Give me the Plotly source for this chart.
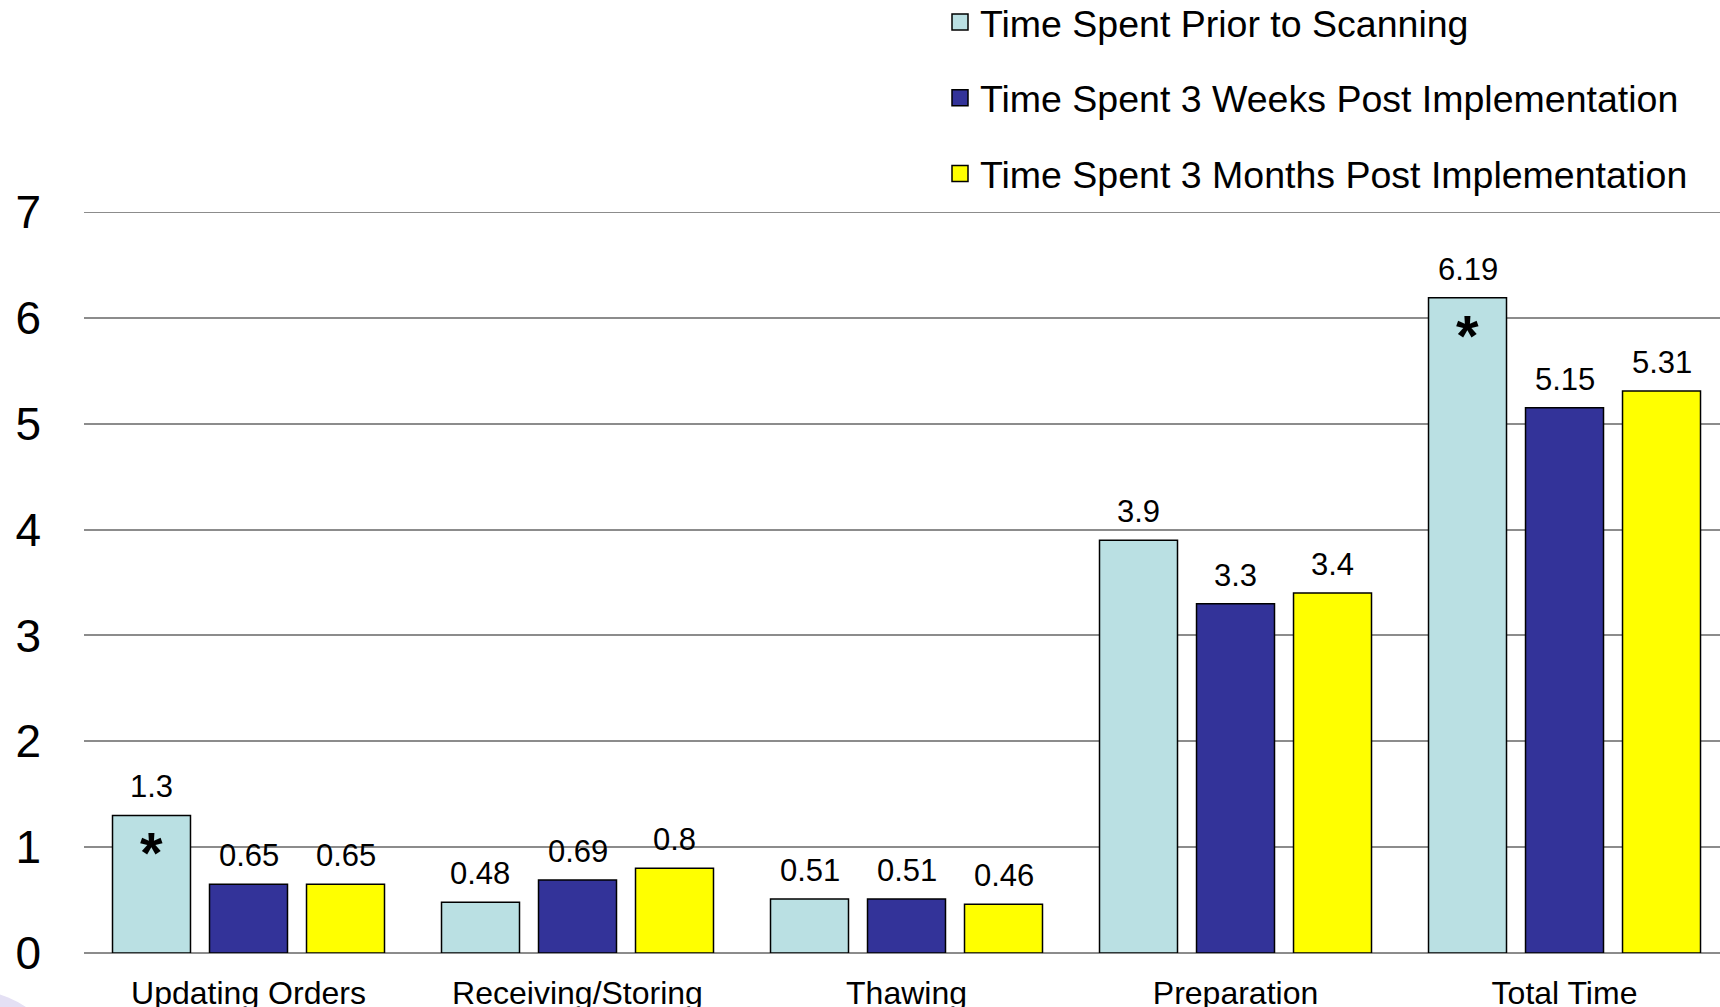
import plotly.graph_objects as go

# ---------------- data ----------------
CATEGORIES = ["Updating Orders", "Receiving/Storing", "Thawing", "Preparation", "Total Time"]
PRIOR = [1.3, 0.48, 0.51, 3.9, 6.19]
WEEKS3 = [0.65, 0.69, 0.51, 3.3, 5.15]
MONTHS3 = [0.65, 0.8, 0.46, 3.4, 5.31]
SERIES_NAMES = [
    "Time Spent Prior to Scanning",
    "Time Spent 3 Weeks Post Implementation",
    "Time Spent 3 Months Post Implementation",
]
SIGNIFICANT = ["Updating Orders", "Total Time"]  # asterisk on "Prior" bars
Y_TICKS = [0, 1, 2, 3, 4, 5, 6, 7]

# ---------------- style ----------------
COLORS = ["#BAE0E3", "#333399", "#FFFF00"]
FONT = "Liberation Sans, Arial, Helvetica, sans-serif"
GRID = "#8c8c8c"
W, H = 1720, 1007
M_L, M_R, M_T, M_B = 84, 0, 212, 54
X_RANGE = [-0.5, 4.4726]
Y_RANGE = [0, 7]
BARGAP = 0.1155
BARGROUPGAP = 0.196

plot_w = W - M_L - M_R
plot_h = H - M_T - M_B
band_px = plot_w / (X_RANGE[1] - X_RANGE[0])
slot_px = band_px * (1 - BARGAP) / 3


def px_x(p):
    return (p - M_L) / plot_w


def px_y(p):
    return (H - M_B - p) / plot_h


series_values = [PRIOR, WEEKS3, MONTHS3]

fig = go.Figure()
for name, vals, col in zip(SERIES_NAMES, series_values, COLORS):
    fig.add_trace(go.Bar(
        x=CATEGORIES, y=vals, name=name,
        marker=dict(color=col, line=dict(color="black", width=1.5)),
        showlegend=False, hoverinfo="x+y",
    ))

# legend entries (square markers)
for i, (name, col) in enumerate(zip(SERIES_NAMES, COLORS)):
    fig.add_trace(go.Scatter(
        x=[None], y=[None], mode="markers", name=name,
        legendgroup=f"g{i}",
        marker=dict(symbol="square", size=16, color=col, line=dict(color="black", width=1.5)),
    ))

annotations = []
for k, vals in enumerate(series_values):
    for cat, v in zip(CATEGORIES, vals):
        annotations.append(dict(
            x=cat, y=v, xref="x", yref="y", text=f"{v:g}", showarrow=False,
            xshift=(k - 1) * slot_px, yshift=9, yanchor="bottom",
            font=dict(family=FONT, size=31, color="black"),
        ))
for cat in SIGNIFICANT:
    v = PRIOR[CATEGORIES.index(cat)]
    annotations.append(dict(
        x=cat, y=v, xref="x", yref="y", text="<b>*</b>", showarrow=False,
        xshift=-slot_px, yshift=-3, yanchor="top",
        font=dict(family=FONT, size=58, color="black"),
    ))

fig.update_layout(
    width=W, height=H,
    margin=dict(l=M_L, r=M_R, t=M_T, b=M_B, pad=0, autoexpand=False),
    paper_bgcolor="white", plot_bgcolor="white",
    barmode="group", bargap=BARGAP, bargroupgap=BARGROUPGAP,
    font=dict(family=FONT, color="black"),
    annotations=annotations,
    legend=dict(
        x=px_x(940), xanchor="left", y=px_y(-9), yanchor="top",
        font=dict(family=FONT, size=37.5, color="black"),
        tracegroupgap=24, itemwidth=30, bgcolor="rgba(0,0,0,0)",
    ),
    shapes=[
        dict(
            type="circle", xref="paper", yref="paper",
            x0=px_x(-130), x1=px_x(70), y0=px_y(1190), y1=px_y(990),
            fillcolor="#E4E0F4", line=dict(width=0), layer="below",
        ),
        # top gridline at the axis maximum (plotly clips gridlines at range ends)
        dict(
            type="line", xref="paper", yref="y", x0=0, x1=1,
            y0=Y_RANGE[1], y1=Y_RANGE[1], line=dict(color=GRID, width=2), layer="below",
        ),
    ],
)
fig.update_xaxes(
    range=X_RANGE, showgrid=False, zeroline=False, showline=False,
    ticks="outside", ticklen=12, tickcolor="rgba(0,0,0,0)",
    tickfont=dict(family=FONT, size=32, color="black"),
)
fig.update_yaxes(
    range=Y_RANGE, tickvals=Y_TICKS, showgrid=True, gridcolor=GRID, gridwidth=2,
    zeroline=True, zerolinecolor=GRID, zerolinewidth=2, showline=False,
    ticks="", ticklabelstandoff=42,
    tickfont=dict(family=FONT, size=46, color="black"),
)

fig.write_html("out.html")
